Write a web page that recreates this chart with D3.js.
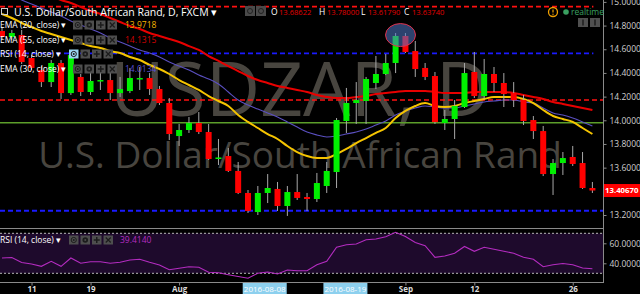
<!DOCTYPE html>
<html><head><meta charset="utf-8">
<script src="https://cdn.jsdelivr.net/npm/d3@7"></script>
<style>html,body{margin:0;padding:0;background:#000;overflow:hidden}svg{display:block}text{font-family:"Open Sans","Noto Sans",sans-serif}</style>
</head><body><svg id="c" width="640" height="294"></svg>
<script>
// ---------------- data ----------------
const dates = ["2016-07-06","2016-07-07","2016-07-08","2016-07-11","2016-07-12","2016-07-13","2016-07-14","2016-07-15","2016-07-18","2016-07-19",
"2016-07-20","2016-07-21","2016-07-22","2016-07-25","2016-07-26","2016-07-27","2016-07-28","2016-07-29","2016-08-01","2016-08-02",
"2016-08-03","2016-08-04","2016-08-05","2016-08-08","2016-08-09","2016-08-10","2016-08-11","2016-08-12","2016-08-15","2016-08-16",
"2016-08-17","2016-08-18","2016-08-19","2016-08-22","2016-08-23","2016-08-24","2016-08-25","2016-08-26","2016-08-29","2016-08-30",
"2016-08-31","2016-09-01","2016-09-02","2016-09-05","2016-09-06","2016-09-07","2016-09-08","2016-09-09","2016-09-12","2016-09-13",
"2016-09-14","2016-09-15","2016-09-16","2016-09-19","2016-09-20","2016-09-21","2016-09-22","2016-09-23","2016-09-26","2016-09-27",
"2016-09-28"];
const open = [14.754,14.703,14.720,14.526,14.425,14.323,14.484,14.230,14.366,14.239,
14.328,14.340,14.230,14.247,14.349,14.357,14.264,14.146,13.867,13.918,
13.977,13.901,13.673,13.698,13.572,13.386,13.225,13.386,13.420,13.276,
13.394,13.352,13.335,13.445,13.563,13.994,14.146,14.163,14.315,14.391,
14.484,14.712,14.585,14.442,14.374,13.977,14.011,14.112,14.408,14.205,
14.391,14.315,14.230,14.171,14.002,13.909,13.546,13.639,13.690,13.639,
13.428];
const high = [14.788,14.763,14.763,14.551,14.458,14.509,14.509,14.560,14.391,14.408,
14.442,14.442,14.366,14.442,14.450,14.399,14.290,14.188,13.969,14.028,
14.070,13.969,13.842,13.766,13.648,13.411,13.445,13.546,13.479,13.445,
13.546,13.386,13.555,13.648,14.019,14.273,14.323,14.366,14.543,14.560,
14.737,14.737,14.670,14.484,14.408,14.087,14.171,14.484,14.577,14.518,
14.450,14.399,14.323,14.214,14.036,13.952,13.673,13.732,13.783,13.732,
13.479];
const low = [14.678,14.678,14.475,14.425,14.281,14.281,14.180,14.214,14.205,14.214,
14.256,14.171,14.197,14.230,14.256,14.214,14.129,13.833,13.783,13.893,
13.884,13.665,13.622,13.563,13.377,13.217,13.200,13.301,13.234,13.192,
13.327,13.234,13.310,13.386,13.428,13.893,13.969,13.969,14.264,14.382,
14.399,14.568,14.366,14.340,13.969,13.918,13.842,14.104,14.188,14.180,
14.239,14.112,14.112,13.960,13.842,13.529,13.369,13.538,13.614,13.420,
13.386];
const close = [14.703,14.737,14.492,14.442,14.323,14.484,14.230,14.551,14.239,14.332,
14.340,14.230,14.264,14.357,14.357,14.264,14.146,13.884,13.918,13.977,
13.901,13.673,13.686,13.572,13.386,13.234,13.386,13.428,13.276,13.394,
13.344,13.335,13.470,13.572,14.002,14.146,14.171,14.349,14.391,14.484,
14.712,14.577,14.433,14.366,13.985,14.011,14.121,14.399,14.205,14.391,
14.315,14.222,14.171,13.994,13.909,13.546,13.639,13.681,13.631,13.428,
13.4067];
const ema20 = [14.898,14.864,14.822,14.788,14.754,14.729,14.703,14.678,14.653,14.627,
14.611,14.585,14.568,14.535,14.509,14.467,14.433,14.391,14.340,14.298,
14.256,14.205,14.163,14.121,14.045,13.986,13.935,13.884,13.842,13.783,
13.732,13.698,13.682,13.682,13.715,13.758,13.808,13.850,13.893,13.935,
14.019,14.079,14.121,14.146,14.121,14.112,14.121,14.146,14.163,14.180,
14.197,14.197,14.197,14.180,14.146,14.087,14.036,14.011,13.986,13.935,
13.884];
const ema30 = [15.092,15.058,15.016,14.982,14.948,14.915,14.881,14.839,14.805,14.771,
14.737,14.695,14.661,14.627,14.594,14.568,14.535,14.492,14.458,14.425,
14.383,14.349,14.307,14.239,14.171,14.129,14.095,14.062,14.028,13.986,
13.943,13.901,13.876,13.859,13.867,13.884,13.901,13.926,13.960,13.994,
14.045,14.079,14.104,14.121,14.112,14.104,14.104,14.121,14.138,14.155,
14.163,14.171,14.171,14.155,14.146,14.104,14.062,14.045,14.019,13.986,
13.952];
const ema55 = [15.210,15.176,15.143,15.109,15.084,15.050,15.016,14.991,14.957,14.923,
14.898,14.864,14.830,14.796,14.771,14.737,14.712,14.687,14.661,14.627,
14.594,14.543,14.501,14.458,14.416,14.374,14.340,14.315,14.290,14.273,
14.256,14.239,14.214,14.197,14.188,14.188,14.197,14.205,14.222,14.231,
14.239,14.247,14.247,14.247,14.239,14.231,14.231,14.231,14.239,14.239,
14.239,14.239,14.231,14.214,14.197,14.180,14.155,14.138,14.121,14.104,
14.087];
const rsi = [45.3,45.8,40.8,39.3,37.0,42.0,37.0,45.3,40.0,41.6,
41.6,40.0,41.0,43.3,44.0,41.0,38.3,33.6,35.0,36.6,
36.0,31.0,30.6,28.6,26.8,25.0,30.0,31.3,29.3,33.3,
32.6,32.6,38.6,42.0,56.0,58.6,59.3,63.5,64.3,66.5,
71.0,66.8,60.8,57.6,46.0,47.3,50.0,56.8,52.0,56.0,
54.0,52.0,50.0,46.0,44.0,36.6,38.6,39.8,38.6,35.3,
34.6];
const priceTicks = [13.2,13.4,13.6,13.8,14.0,14.2,14.4,14.6,14.8,15.0];
const rsiTicks = [40,60];
const rsiBands = [70,30];
const timeTickDates = ["2016-07-11","2016-07-19","2016-08-01","2016-09-01","2016-09-12","2016-09-26"];
const timeTickLabels = ["11","19","Aug","Sep","12","26"];
const markerLabels = ["2016-08-08","2016-08-19"];
const markerIdx = [26.7, 34.9];
const levelValues = [14.96, 14.566, 14.172, 13.98, 13.236];
const levelKinds = ["redDash","blueDash","redDash","green","blueDash"];
const levelShort = [true,true,false,false,false];
const ohlcLabels = ["O","H","L","C"];
const ohlcValues = ["13.68622","13.78000","13.61790","13.63740"];
const legendNames = ["EMA (20, close)","EMA (55, close)","RSI (14, close)","EMA (30, close)"];
const legendValues = ["13.9718","14.1315","","14.0134"];
const rsiLegendValue = "39.4140";

// ---------------- drawing ----------------
const svg = d3.select("#c");
const paneR = 603.5;
const x = d3.scaleLinear().domain([0, dates.length-1]).range([2, 592.4]);
const idx = new Map(dates.map((d,i)=>[d,i]));
const y = d3.scaleLinear().domain([13.2, 15.0]).range([215, 1.9]);
const yr = d3.scaleLinear().domain([30, 70]).range([273.3, 233.3]);
const last = close[close.length-1];

svg.append("rect").attr("width",640).attr("height",294).attr("fill","#000");
const defs = svg.append("defs");
defs.append("clipPath").attr("id","cm").append("rect").attr("x",0).attr("y",0).attr("width",603).attr("height",228);
defs.append("clipPath").attr("id","cr").append("rect").attr("x",0).attr("y",229).attr("width",603).attr("height",53);

const main = svg.append("g").attr("clip-path","url(#cm)");
// watermark
main.append("text").attr("x",300).attr("y",116).attr("text-anchor","middle")
  .attr("font-size",75).attr("fill","#48453f").text("USDZAR, D");
main.append("text").attr("x",300).attr("y",168).attr("text-anchor","middle")
  .attr("font-size",37).attr("fill","#48453f").text("U.S. Dollar/South African Rand");

// levels
const lvlStyle = {
  redDash:{stroke:"#ff1010",w:1.6,dash:"5,3"},
  blueDash:{stroke:"#1a1aff",w:1.8,dash:"5,3"},
  green:{stroke:"#5c9e2a",w:1.5,dash:null}
};
levelValues.forEach((v,i)=>{
  const s = lvlStyle[levelKinds[i]];
  main.append("line").attr("x1",0).attr("x2", levelShort[i] ? x(dates.length-1)+1 : paneR)
    .attr("y1",y(v)).attr("y2",y(v)).attr("stroke",s.stroke).attr("stroke-width",s.w)
    .attr("stroke-dasharray",s.dash);
});

// EMAs
const line = d3.line().x((d,i)=>x(i)).y(d=>y(d)).curve(d3.curveMonotoneX);
main.append("path").attr("d",line(ema55)).attr("fill","none").attr("stroke","#e80000").attr("stroke-width",2);
main.append("path").attr("d",line(ema30)).attr("fill","none").attr("stroke","#5a4fc0").attr("stroke-width",1.1);
main.append("path").attr("d",line(ema20)).attr("fill","none").attr("stroke","#f5c400").attr("stroke-width",2);

// candles
const cg = main.append("g");
dates.forEach((d,i)=>{
  const up = close[i] >= open[i];
  const cx = x(i);
  cg.append("line").attr("x1",cx).attr("x2",cx).attr("y1",y(high[i])).attr("y2",y(low[i]))
    .attr("stroke","#a8a8a8").attr("stroke-width",1);
  const t = y(Math.max(open[i],close[i])), b = y(Math.min(open[i],close[i]));
  cg.append("rect").attr("x",cx-3).attr("y",t).attr("width",6).attr("height",Math.max(1.5,b-t))
    .attr("fill", up ? "#00f000" : "#ff0000");
});

// ellipse marker at the top
main.append("ellipse").attr("cx",(x(40)+x(41))/2).attr("cy",y(14.72)).attr("rx",15).attr("ry",11.5)
  .attr("fill","rgba(80,120,200,0.55)").attr("stroke","#e0304a").attr("stroke-width",1);

// RSI pane
const rp = svg.append("g").attr("clip-path","url(#cr)");
rp.append("rect").attr("x",0).attr("width",603).attr("y",yr(70)).attr("height",yr(30)-yr(70)).attr("fill","#1e0a2c");
rsiBands.forEach(v=>{
  rp.append("line").attr("x1",0).attr("x2",603).attr("y1",yr(v)).attr("y2",yr(v))
    .attr("stroke","#b8b8b8").attr("stroke-width",1).attr("stroke-dasharray","2,2");
});
rp.append("path").attr("d", d3.line().x((d,i)=>x(i)).y(d=>yr(d))(rsi))
  .attr("fill","none").attr("stroke","#b42cc0").attr("stroke-width",1.1);

// frame lines
svg.append("line").attr("x1",0).attr("x2",paneR).attr("y1",228.5).attr("y2",228.5).attr("stroke","#8a8a8a");
svg.append("line").attr("x1",0).attr("x2",paneR).attr("y1",282.5).attr("y2",282.5).attr("stroke","#8a8a8a");
svg.append("line").attr("x1",paneR).attr("x2",paneR).attr("y1",0).attr("y2",283).attr("stroke","#8a8a8a");

// right price axis (labels hidden under the last-price tag are left out, as on the original)
const ax = svg.append("g").attr("transform",`translate(${paneR},0)`)
  .call(d3.axisRight(y).tickValues(priceTicks)
    .tickFormat(v => Math.abs(y(v)-y(last)) < 9 ? "" : d3.format(".6f")(v)).tickSize(3).tickPadding(3));
ax.select(".domain").remove();
ax.selectAll("line").attr("stroke","#8a8a8a");
ax.selectAll("text").attr("fill","#cfcfcf").attr("font-size",8.5).attr("font-family","Open Sans");

const rax = svg.append("g").attr("transform",`translate(${paneR},0)`)
  .call(d3.axisRight(yr).tickValues(rsiTicks).tickFormat(d3.format(".4f")).tickSize(3).tickPadding(3));
rax.select(".domain").remove();
rax.selectAll("line").attr("stroke","#8a8a8a");
rax.selectAll("text").attr("fill","#cfcfcf").attr("font-size",8.5).attr("font-family","Open Sans");

// last price tag
svg.append("rect").attr("x",604).attr("y",y(last)-6.5).attr("width",36).attr("height",13).attr("fill","#ff0000");
svg.append("text").attr("x",605).attr("y",y(last)).attr("dy","0.35em").attr("fill","#fff")
  .attr("font-size",7.8).attr("font-weight","bold").text(d3.format(".5f")(last));

// bottom time axis
const bx = svg.append("g").attr("transform","translate(0,282.5)")
  .call(d3.axisBottom(x).tickValues(timeTickDates.map(d=>idx.get(d)))
    .tickFormat((d,i)=>timeTickLabels[i]).tickSize(3).tickPadding(1));
bx.select(".domain").remove();
bx.selectAll("line").attr("stroke","#8a8a8a");
bx.selectAll("text").attr("fill","#dcdcdc").attr("font-size",8).attr("font-weight","bold").attr("font-family","Open Sans");

markerLabels.forEach((lab,i)=>{
  const cx = x(markerIdx[i]);
  svg.append("rect").attr("x",cx-22).attr("y",283).attr("width",44).attr("height",11).attr("fill","#8dd0ee");
  svg.append("text").attr("x",cx).attr("y",289).attr("dy","0.35em").attr("text-anchor","middle")
    .attr("fill","#fff").attr("font-size",8).text(lab);
});

// ---------------- header / legends ----------------
const hdr = svg.append("g");
hdr.append("rect").attr("x",1.5).attr("y",8.5).attr("width",6).attr("height",6).attr("fill","none").attr("stroke","#ccc");
hdr.append("text").attr("x",14).attr("y",16).attr("fill","#fff").attr("font-size",10.5)
  .text("U.S. Dollar/South African Rand, D, FXCM \u25BE");
[245,256].forEach(px=>{
  hdr.append("rect").attr("x",px).attr("y",6).attr("width",10).attr("height",10).attr("fill","#4a4a4a");
  hdr.append("circle").attr("cx",px+5).attr("cy",11).attr("r",2.5).attr("fill","none").attr("stroke","#222");
});
const ohlcX = [271,319,361,404];
ohlcLabels.forEach((l,i)=>{
  hdr.append("text").attr("x",ohlcX[i]).attr("y",15).attr("fill","#fff").attr("font-size",8.5).text(l);
  hdr.append("text").attr("x",ohlcX[i]+ (i===2?7:8)).attr("y",15).attr("fill","#e00000").attr("font-size",7.6).text(ohlcValues[i]);
});
hdr.append("circle").attr("cx",553).attr("cy",12).attr("r",4.5).attr("fill","none").attr("stroke","#f0a000").attr("stroke-width",1.3);
hdr.append("line").attr("x1",553).attr("x2",553).attr("y1",9.5).attr("y2",12.5).attr("stroke","#f0a000").attr("stroke-width",1.2);
hdr.append("circle").attr("cx",553).attr("cy",14.3).attr("r",0.7).attr("fill","#f0a000");
hdr.append("circle").attr("cx",566).attr("cy",12).attr("r",2.8).attr("fill","#3aa060");
hdr.append("text").attr("x",571).attr("y",15).attr("fill","#3aa060").attr("font-size",8.5).text("realtime");
[578,590].forEach(px=>{
  hdr.append("rect").attr("x",px).attr("y",18).attr("width",10).attr("height",9).attr("fill","#505050");
  hdr.append("line").attr("x1",px+5).attr("x2",px+5).attr("y1",19.5).attr("y2",25.5).attr("stroke","#111").attr("stroke-width",1.2);
});

function iconRow(g, x0, yc, highlight){
  for (let k=0;k<4;k++){
    const px = x0 + k*11.5, cx = px+4.75;
    g.append("rect").attr("x",px).attr("y",yc-4.5).attr("width",9.5).attr("height",9)
      .attr("fill", (highlight && k===0) ? "#9ad6f2" : "#4e4e4e");
    const ink = "#1c1c1c";
    if (k===0){ g.append("circle").attr("cx",cx).attr("cy",yc).attr("r",2.6).attr("fill","none").attr("stroke",ink);
                g.append("circle").attr("cx",cx).attr("cy",yc).attr("r",1).attr("fill",ink); }
    if (k===1){ g.append("circle").attr("cx",cx).attr("cy",yc).attr("r",2.8).attr("fill",ink);
                g.append("circle").attr("cx",cx).attr("cy",yc).attr("r",1).attr("fill","#4e4e4e"); }
    if (k===2){ g.append("path").attr("d",`M${cx-3},${yc}H${cx+3}M${cx},${yc-3}V${yc+3}`).attr("stroke",ink).attr("stroke-width",1.5); }
    if (k===3){ g.append("path").attr("d",`M${cx-2.5},${yc-2.5}L${cx+2.5},${yc+2.5}M${cx+2.5},${yc-2.5}L${cx-2.5},${yc+2.5}`).attr("stroke",ink).attr("stroke-width",1.2); }
  }
}
const legColors = ["#f5b400","#d40000","#fff","#5a4fd0"];
const legY = [25,40,54,69];
legendNames.forEach((n,i)=>{
  hdr.append("text").attr("x",0).attr("y",legY[i]).attr("dy","0.35em").attr("fill","#fff").attr("font-size",8.5).text(n+" \u25BE");
  iconRow(hdr, i===2?69:73, legY[i], i===2);
  if (legendValues[i]) hdr.append("text").attr("x",125).attr("y",legY[i]).attr("dy","0.35em")
    .attr("fill",legColors[i]).attr("font-size",8.5).text(legendValues[i]);
});
// RSI legend
hdr.append("text").attr("x",0).attr("y",240).attr("dy","0.35em").attr("fill","#fff").attr("font-size",8.5).text("RSI (14, close) \u25BE");
iconRow(hdr, 69, 240, false);
hdr.append("text").attr("x",120).attr("y",240).attr("dy","0.35em").attr("fill","#b42cc0").attr("font-size",8.5).text(rsiLegendValue);
</script></body></html>
